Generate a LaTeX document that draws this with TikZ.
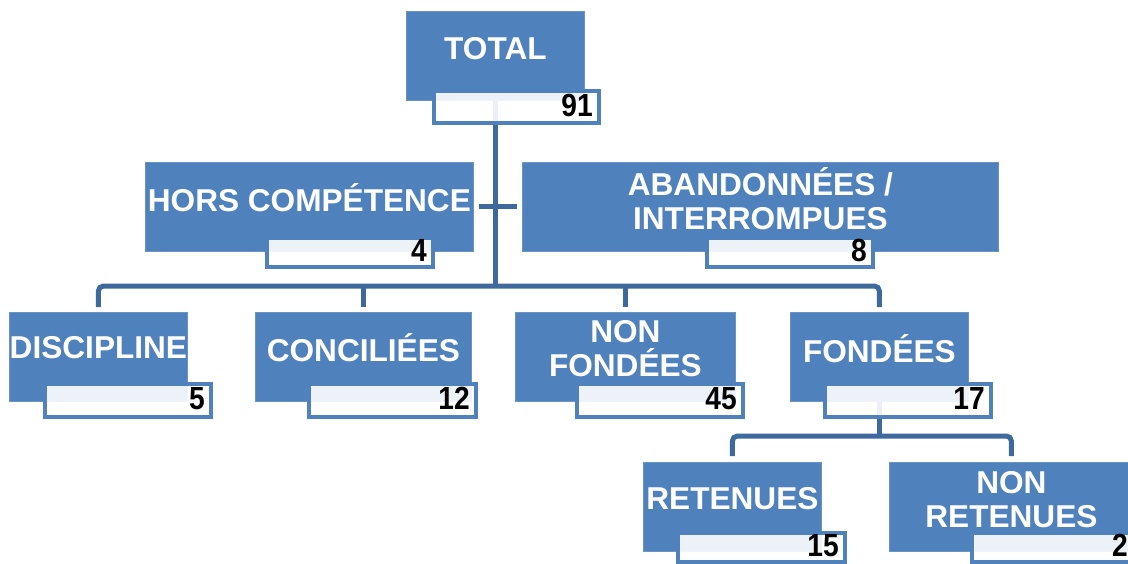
\documentclass[tikz,border=0pt]{standalone}
\usepackage{fontspec}
\setmainfont{Liberation Sans}
\newfontfamily\numfont[FakeStretch=0.88]{Liberation Sans}
\pgfdeclarelayer{background}
\pgfsetlayers{background,main}
\definecolor{boxblue}{RGB}{79,129,189}
\definecolor{connblue}{RGB}{62,105,156}
\tikzset{
 mainbox/.style={rectangle, fill=boxblue, draw=boxblue!85!white, line width=0.8pt, inner sep=0pt, anchor=north west, minimum height=89pt},
 numbox/.style={rectangle, fill=white, fill opacity=0.9, draw=boxblue, draw opacity=1, line width=4pt, inner sep=0pt, anchor=north west},
 maintext/.style={text=white, font=\bfseries\fontsize{31.6}{34}\selectfont, align=center, inner sep=0pt},
 numtext/.style={text=black, font=\numfont\bfseries\fontsize{32}{32}\selectfont, inner sep=0pt, anchor=east},
 conn/.style={draw=connblue, line width=5pt},
}
\begin{document}
\begin{tikzpicture}[x=1pt,y=-1pt]
\useasboundingbox (0,0) rectangle (1128,563);
\clip (0,0) rectangle (1128,563);
% main boxes
\node[mainbox, minimum width=178pt] (total) at (406,11) {};
\node[mainbox, minimum width=328pt] (hors) at (145,162) {};
\node[mainbox, minimum width=476pt] (aband) at (522,162) {};
\node[mainbox, minimum width=178pt] (disc) at (9,312) {};
\node[mainbox, minimum width=216pt] (conc) at (255,312) {};
\node[mainbox, minimum width=220pt] (nonf) at (515,312) {};
\node[mainbox, minimum width=178pt] (fond) at (790,312) {};
\node[mainbox, minimum width=178pt] (ret) at (643,462) {};
\node[mainbox, minimum width=244pt] (nonret) at (889,462) {};
% number boxes
\node[numbox, minimum width=165pt, minimum height=32pt] (totalB) at (432,89) {};
\node[numbox, minimum width=166pt, minimum height=29pt] (horsB) at (265,236) {};
\node[numbox, minimum width=166pt, minimum height=29pt] (abandB) at (705,236) {};
\node[numbox, minimum width=166pt, minimum height=33pt] (discB) at (43,382) {};
\node[numbox, minimum width=167pt, minimum height=33pt] (concB) at (307,382) {};
\node[numbox, minimum width=166pt, minimum height=33pt] (nonfB) at (575,382) {};
\node[numbox, minimum width=166pt, minimum height=33pt] (fondB) at (823,382) {};
\node[numbox, minimum width=167pt, minimum height=29pt] (retB) at (676,531) {};
\node[numbox, minimum width=162pt, minimum height=29pt] (nonretB) at (970,531) {};
% texts
\node[maintext] (totalT) at ([yshift=-38pt]total.north) {TOTAL};
\node[maintext] (horsT) at ([yshift=-36pt]hors.north) {HORS COMPÉTENCE};
\node[maintext] (abandT) at ([yshift=-37pt]aband.north) {ABANDONNÉES /\\INTERROMPUES};
\node[maintext] (discT) at ([yshift=-36pt]disc.north) {DISCIPLINE};
\node[maintext] (concT) at ([yshift=-36pt]conc.north) {CONCILIÉES};
\node[maintext] (nonfT) at ([yshift=-37pt]nonf.north) {NON\\FONDÉES};
\node[maintext] (fondT) at ([yshift=-37pt]fond.north) {FONDÉES};
\node[maintext] (retT) at ([yshift=-37pt]ret.north) {RETENUES};
\node[maintext] (nonretT) at ([yshift=-38pt]nonret.north) {NON\\RETENUES};
% numbers
\node[numtext] (totalN) at ([xshift=-8pt,yshift=2pt]totalB.east) {91};
\node[numtext] (horsN) at ([xshift=-8pt,yshift=2pt]horsB.east) {4};
\node[numtext] (abandN) at ([xshift=-8pt,yshift=2pt]abandB.east) {8};
\node[numtext] (discN) at ([xshift=-8pt,yshift=2pt]discB.east) {5};
\node[numtext] (concN) at ([xshift=-8pt,yshift=2pt]concB.east) {12};
\node[numtext] (nonfN) at ([xshift=-8pt,yshift=2pt]nonfB.east) {45};
\node[numtext] (fondN) at ([xshift=-8pt,yshift=2pt]fondB.east) {17};
\node[numtext] (retN) at ([xshift=-8pt,yshift=2pt]retB.east) {15};
\node[numtext] (nonretN) at ([xshift=-8pt,yshift=2pt]nonretB.east) {2};
% connectors
\coordinate (busy) at (0,286);
\coordinate (suby) at (0,436);
\begin{pgfonlayer}{background}
\draw[conn] (total.south) -- (total.south |- busy);
\draw[conn] ([xshift=5pt]hors.east) -- ([xshift=-5pt]aband.west);
\draw[conn, rounded corners=5pt] ([yshift=5pt]disc.north) -- (disc.north |- busy) -- (fond.north |- busy) -- ([yshift=5pt]fond.north);
\draw[conn] (conc.north |- busy) -- ([yshift=5pt]conc.north);
\draw[conn] (nonf.north |- busy) -- ([yshift=5pt]nonf.north);
\draw[conn] (fond.south) -- (fond.south |- suby);
\draw[conn, rounded corners=5pt] ([yshift=6pt]ret.north) -- (ret.north |- suby) -- (nonret.north |- suby) -- ([yshift=6pt]nonret.north);
\end{pgfonlayer}
\end{tikzpicture}
\end{document}
